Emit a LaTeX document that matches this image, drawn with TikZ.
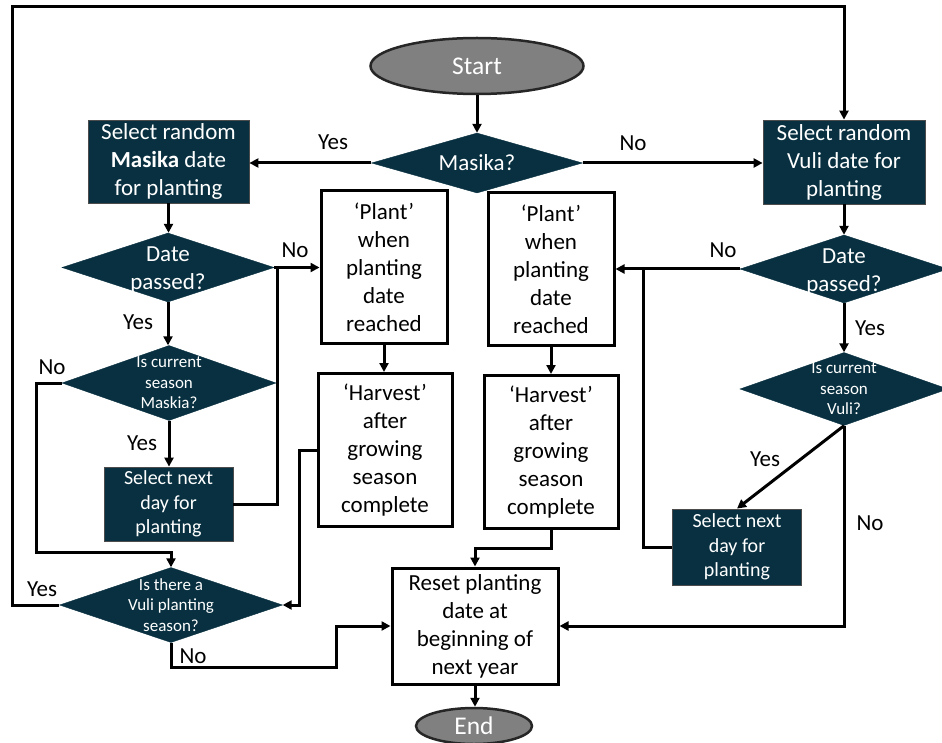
\documentclass[tikz,border=0pt]{standalone}
\usepackage{fontspec}
\setmainfont{Carlito}
\usetikzlibrary{shapes.geometric,arrows.meta,calc}
\definecolor{dteal}{RGB}{8,48,64}
\definecolor{egray}{RGB}{128,128,128}
\begin{document}
\begin{tikzpicture}[x=1pt,y=-1pt,
 txt/.style={font=\fontsize{23}{28}\selectfont, align=center},
 stxt/.style={font=\fontsize{17}{20.5}\selectfont, align=center, text=white},
 mtxt/.style={font=\fontsize{20}{24.5}\selectfont, align=center},
 darkbox/.style={rectangle, fill=dteal, draw=black!70, line width=0.8pt, text=white, inner sep=0pt},
 whitebox/.style={rectangle, fill=white, draw=black, line width=3pt, txt, inner sep=0pt},
 dia/.style={diamond, fill=dteal, draw=dteal, inner sep=0pt},
 term/.style={ellipse, fill=egray, draw=black!85, line width=2.5pt, text=white, inner sep=0pt, font=\fontsize{25.5}{30}\selectfont},
 conn/.style={line width=3pt, -{Triangle[length=9pt,width=9pt]}},
 plain/.style={line width=3pt},
 lab/.style={font=\fontsize{23}{28}\selectfont}
]
\useasboundingbox (0,0) rectangle (942,743);
% terminals
\node[term, minimum width=213, minimum height=56] (start) at (477,66) {Start};
\node[term, minimum width=116, minimum height=36] (end) at (474,726) {End};
% top decision
\node[dia, minimum width=211, minimum height=60] (mas) at (477,163) {};
\node[txt, text=white] (mast) at (477,163) {Masika?};
% select random boxes
\node[darkbox, txt, minimum width=161, minimum height=83] (selm) at (168.5,161.5) {Select random\\\textbf{Masika} date\\for planting};
\node[darkbox, txt, minimum width=162, minimum height=84] (selv) at (844,162) {Select random\\Vuli date for\\planting};
% date passed
\node[dia, minimum width=212, minimum height=69] (dpl) at (168,267.5) {};
\node[txt, text=white] (dplt) at (168,270) {Date\\passed?};
\node[dia, minimum width=208, minimum height=68] (dpr) at (844,269) {};
\node[txt, text=white] (dprt) at (844,271.5) {Date\\passed?};
% plant / harvest
\node[whitebox, minimum width=126, minimum height=152] (pl1) at (384,267) {‘Plant’\\when\\planting\\date\\reached};
\node[whitebox, minimum width=126, minimum height=152] (pl2) at (551,269) {‘Plant’\\when\\planting\\date\\reached};
\node[whitebox, minimum width=134, minimum height=153] (hv1) at (385,450) {‘Harvest’\\after\\growing\\season\\complete};
\node[whitebox, minimum width=134, minimum height=153] (hv2) at (551,452) {‘Harvest’\\after\\growing\\season\\complete};
% is current season
\node[dia, minimum width=214, minimum height=75] (icm) at (169,383) {};
\node[stxt] (icmt) at (169,383) {Is current\\season\\Maskia?};
\node[dia, minimum width=208, minimum height=73] (icv) at (844,389) {};
\node[stxt] (icvt) at (844,389) {Is current\\season\\Vuli?};
% select next day
\node[darkbox, mtxt, minimum width=129, minimum height=74] (snl) at (168.5,504) {Select next\\day for\\planting};
\node[darkbox, mtxt, minimum width=129, minimum height=76] (snr) at (737,547) {Select next\\day for\\planting};
% vuli planting season
\node[dia, minimum width=223, minimum height=75] (vps) at (171,605) {};
\node[stxt] (vpst) at (171,605) {Is there a\\Vuli planting\\season?};
% reset
\node[whitebox, minimum width=166, minimum height=116] (rst) at (475,626) {Reset planting\\date at\\beginning of\\next year};
% helper coordinates
\coordinate (jl) at (277,267.5);
\coordinate (jr) at (643,269);
\coordinate (lnb) at (36,552);
\coordinate (fl) at (12,7);
\coordinate (lbm) at (336,667);
\coordinate (hj) at (299,500);
\coordinate (rj) at (510,548);
% connectors
\draw[conn] (start) -- (mas);
\draw[conn] (mas.west) -- (mas.west -| selm.east);
\draw[conn] (mas.east) -- (mas.east -| selv.west);
\draw[conn] (selm.south) -- (selm.south |- dpl.north);
\draw[conn] (selv.south) -- (selv.south |- dpr.north);
\draw[conn] (dpl.east) -- (dpl.east -| pl1.west);
\draw[conn] (dpr.west) -- (dpr.west -| pl2.east);
\draw[conn] (pl1.south) -- (pl1.south |- hv1.north);
\draw[conn] (pl2.south) -- (pl2.south |- hv2.north);
\draw[conn] (dpl.south) -- (dpl.south |- icm.north);
\draw[conn] (dpr.south) -- (dpr.south |- icv.north);
\draw[conn] (icm.south) -- (icm.south |- snl.north);
\draw[plain] (snl.east) -| (jl);
\draw[plain] (snr.west) -| (jr);
\draw[conn] (icm.west) -| (lnb) -| (vps.north);
\draw[conn] (vps.west) -| (fl) -| (selv.north);
\draw[conn] (vps.south) |- (lbm) |- (rst.west);
\draw[conn] (hv1.west) -| (hj) |- (vps.east);
\draw[conn] (hv2.south) |- (rj) -| (rst.north);
\draw[conn] (icv.south) -- (snr.north);
\draw[conn] (icv.south) |- (rst.east);
\draw[conn] (rst.south) -- (rst.south |- end.north);
% labels
\node[lab] (l1) at (333,142) {Yes};
\node[lab] (l2) at (633,143) {No};
\node[lab] (l3) at (295,250) {No};
\node[lab] (l4) at (723,250) {No};
\node[lab] (l5) at (138,322) {Yes};
\node[lab] (l6) at (52,367) {No};
\node[lab] (l7) at (142,443) {Yes};
\node[lab] (l8) at (42,589) {Yes};
\node[lab] (l9) at (193,656) {No};
\node[lab] (l10) at (870,328) {Yes};
\node[lab] (l11) at (765,459) {Yes};
\node[lab] (l12) at (870,523) {No};
\end{tikzpicture}
\end{document}
